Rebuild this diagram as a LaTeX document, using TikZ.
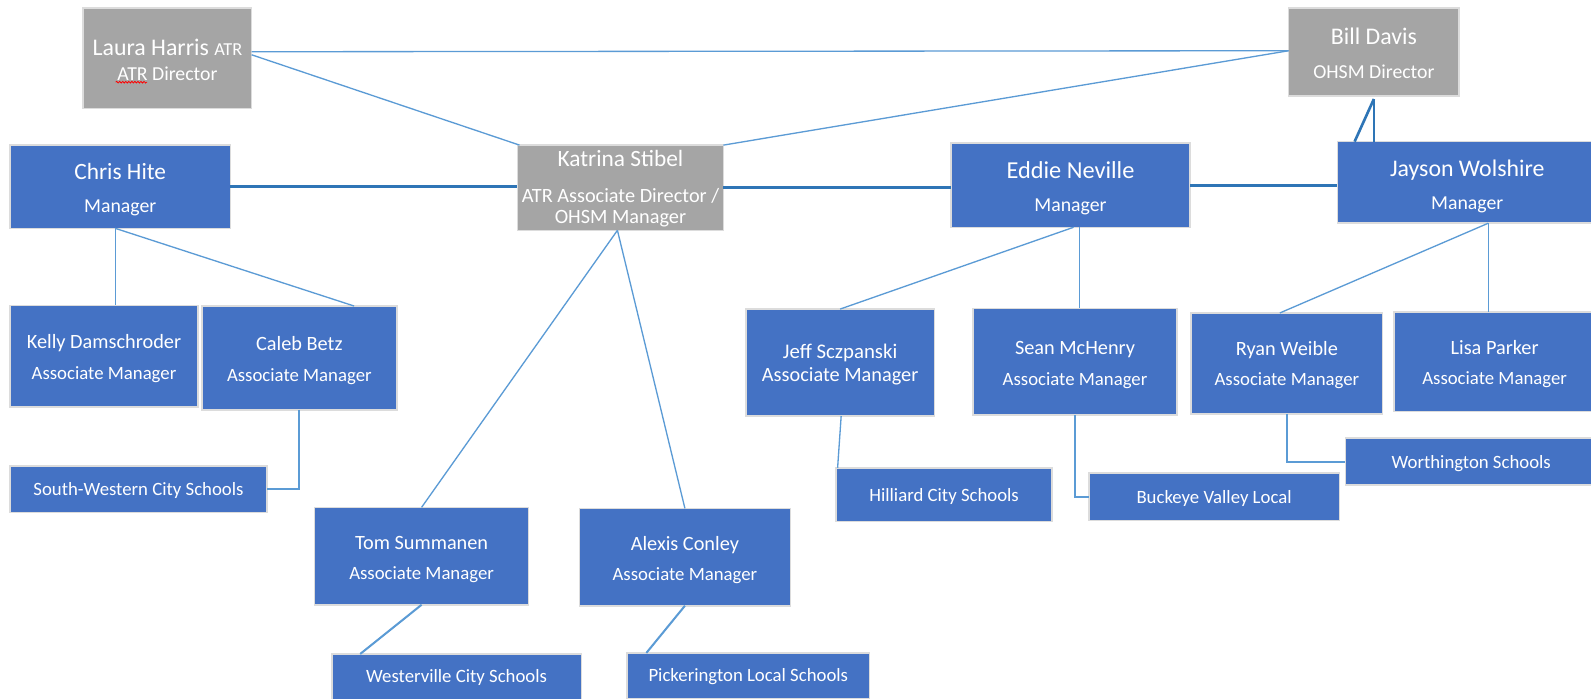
\documentclass[tikz,border=0pt]{standalone}
\usepackage{fontspec}
\setmainfont{Carlito}
\usetikzlibrary{calc,decorations.pathmorphing}
\definecolor{boxblue}{HTML}{4472C4}
\definecolor{boxgray}{HTML}{A5A5A5}
\definecolor{rimgray}{HTML}{DCDCDC}
\definecolor{linklight}{HTML}{5B9BD5}
\definecolor{linkdark}{HTML}{2E75B6}
\newcommand\setfs[2]{\fontsize{#1}{#2}\selectfont}
% first line of a card: font size #1, extra top room #2 (pt), text #3
\newcommand\firstline[3]{{\setfs{#1}{30}\rule{0pt}{\dimexpr #1pt*78/100+#2pt\relax}#3}}
\tikzset{
  card/.style={draw=rimgray, line width=1.5pt, text=white, align=center, inner sep=0pt, outer sep=0pt},
  bluecard/.style={card, fill=boxblue},
  graycard/.style={card, fill=boxgray},
  sz/.style 2 args={minimum width=#1pt, minimum height=#2pt},
  topfont/.style={font=\setfs{19.5}{32.5}},
  assocfont/.style={font=\setfs{18.5}{30}},
  schoolfont/.style={font=\setfs{18.5}{22}},
  thinlink/.style={draw=linklight, line width=1.3pt},
  elbowlink/.style={draw=linklight, line width=2pt},
  thicklink/.style={draw=linkdark, line width=2.6pt},
}
\begin{document}
\begin{tikzpicture}[x=1pt, y=-1pt]
\useasboundingbox[fill=white] (0,0) rectangle (1568,688);

% top level
\node[graycard, sz={166}{99}, font=\setfs{19.5}{24}] (laura) at (165,57.5)
  {\firstline{23.5}{1}{Laura Harris {\setfs{18}{24}ATR}}\\ATR Director};
\node[graycard, sz={168}{86.6}, font=\setfs{19.5}{33}] (bill) at (1354,51.3)
  {\firstline{23.5}{0}{Bill Davis}\\OHSM Director};

% managers
\node[bluecard, sz={217}{82}, topfont] (chris) at (118.5,184)
  {\firstline{23}{4}{Chris Hite}\\Manager};
\node[graycard, sz={203}{84}, font=\setfs{20}{21}] (katrina) at (611.5,185)
  {\firstline{23}{0}{Katrina Stibel}\\[14pt]ATR Associate Director /\\OHSM Manager};
\node[bluecard, sz={236}{83}, topfont] (eddie) at (1055,182.5)
  {\firstline{24}{4}{Eddie Neville}\\Manager};
\node[bluecard, sz={256}{80.4}, topfont] (jayson) at (1446,179.8)
  {\firstline{23.5}{6}{Jayson Wolshire}\\Manager};

% associate managers
\node[bluecard, sz={185}{100}, assocfont] (kelly) at (102.5,351)
  {\firstline{20}{3}{Kelly Damschroder}\\Associate Manager};
\node[bluecard, sz={192}{102.4}, assocfont] (caleb) at (295,352.8)
  {\firstline{20}{3}{Caleb Betz}\\Associate Manager};
\node[bluecard, sz={211}{96}, assocfont] (tom) at (415.5,548)
  {\firstline{20}{4}{Tom Summanen}\\Associate Manager};
\node[bluecard, sz={208}{96}, assocfont] (alexis) at (675,549)
  {\firstline{20}{4}{Alexis Conley}\\Associate Manager};
\node[bluecard, sz={186}{105.4}, font=\setfs{20}{22.6}] (jeff) at (828,357.3)
  {\firstline{20.5}{3}{Jeff Sczpanski}\\Associate Manager};
\node[bluecard, sz={201}{105}, assocfont] (sean) at (1059.5,356.5)
  {\firstline{20}{4}{Sean McHenry}\\Associate Manager};
\node[bluecard, sz={188.6}{99.5}, assocfont] (ryan) at (1268.3,358.2)
  {\firstline{20}{2}{Ryan Weible}\\Associate Manager};
\node[bluecard, sz={198}{98}, assocfont] (lisa) at (1473,356.7)
  {\firstline{20}{2}{Lisa Parker}\\Associate Manager};

% schools
\node[bluecard, sz={253}{46}, schoolfont] (sw) at (136.5,482) {\firstline{18.5}{1}{South-Western City Schools}};
\node[bluecard, sz={246}{45}, schoolfont] (wester) at (450,667) {\firstline{18.5}{0}{Westerville City Schools}};
\node[bluecard, sz={239}{45}, schoolfont] (picker) at (737.5,666) {\firstline{18.5}{0}{Pickerington Local Schools}};
\node[bluecard, sz={213}{53}, schoolfont] (hilliard) at (930.5,487.5) {\firstline{18.5}{3}{Hilliard City Schools}};
\node[bluecard, sz={247}{47}, schoolfont] (buckeye) at (1196.5,489.5) {\firstline{18.5}{2}{Buckeye Valley Local}};
\node[bluecard, sz={248}{46.3}, schoolfont] (worth) at (1450,455) {\firstline{18.5}{2}{Worthington Schools}};

% spell-check squiggle under ATR
\draw[red, line width=0.8pt, decorate, decoration={snake, segment length=3pt, amplitude=0.8pt}]
  ($(laura.north west)+(32,73)$) -- ($(laura.north west)+(63,73)$);

% connectors: top
\draw[thinlink] ($(laura.north east)+(0,43)$) -- ($(bill.north west)+(0,42)$);
\draw[thinlink] ($(laura.north east)+(0,46)$) -- ($(katrina.north west)+(2,0)$);
\draw[thinlink] (katrina.north east) -- ($(bill.north west)+(0,42)$);

% manager row
\draw[thicklink] (chris.east) -- (chris.east -| katrina.west);
\draw[thicklink] (katrina.east) -- (katrina.east -| eddie.west);
\draw[thicklink, line width=3.3pt] (eddie.east) -- (eddie.east -| jayson.west);
\coordinate (bb) at ($(bill.south)+(0,3)$);
\draw[thicklink] (bb) -- ($(jayson.north west)+(17,0)$);
\draw[thicklink] (bb) -- (bb |- jayson.north);

% Chris branch
\coordinate (cb) at ($(chris.south)+(-5,0)$);
\draw[thinlink] (cb) -- (cb |- kelly.north);
\draw[thinlink] (cb) -- ($(caleb.north)+(54,0)$);
\draw[elbowlink] (caleb.south) |- (sw.east);

% Katrina branch
\coordinate (kb) at ($(katrina.south)+(-3,0)$);
\draw[thinlink] (kb) -- (tom.north);
\draw[thinlink] (kb) -- (alexis.north);
\draw[elbowlink] (tom.south) -- ($(wester.north west)+(28,0)$);
\draw[elbowlink] (alexis.south) -- ($(picker.north west)+(19,0)$);

% Eddie branch
\draw[thinlink] ($(eddie.south)+(3,0)$) -- (jeff.north);
\coordinate (eb) at ($(eddie.south)+(9,0)$);
\draw[thinlink] (eb) -- (eb |- sean.north);
\draw[thinlink] ($(jeff.south)+(1,0)$) -- ($(hilliard.north west)+(1.5,0)$);
\draw[elbowlink] (sean.south) |- (buckeye.west);

% Jayson branch
\coordinate (jb) at ($(jayson.south)+(20.7,0)$);
\draw[thinlink] (jb) -- ($(ryan.north)+(-7,0)$);
\draw[thinlink] (jb) -- (jb |- lisa.north);
\draw[elbowlink] (ryan.south) |- (worth.west);
\end{tikzpicture}
\end{document}
